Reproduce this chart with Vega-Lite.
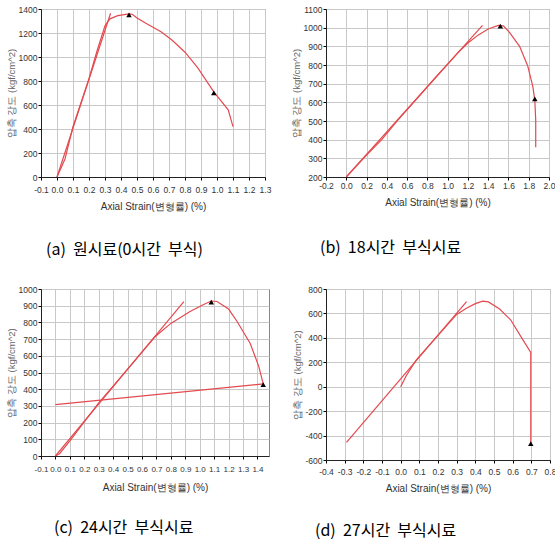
{
  "$schema": "https://vega.github.io/schema/vega-lite/v6.json",
  "padding": {"left": 5, "top": 4, "right": 0, "bottom": 0},
  "background": "white",
  "config": {
    "view": {"stroke": "#888", "strokeWidth": 1},
    "axis": {
      "grid": true, "gridColor": "#c8c8c8", "gridOpacity": 1, "gridWidth": 1,
      "domainColor": "#222", "tickColor": "#000", "tickSize": 3,
      "labelFont": "Liberation Sans", "labelFontSize": 8.5, "labelColor": "#333",
      "titleFont": "Liberation Sans", "titleFontWeight": "normal", "titleColor": "#333"
    },
    "axisX": {"titleFontSize": 10, "labelFlush": false, "labelOverlap": false},
    "axisY": {"titleFontSize": 9.5, "titleColor": "#666", "labelPadding": 1, "titlePadding": 2, "labelOverlap": false},
    "title": {"font": "Noto Sans CJK KR", "fontSize": 16, "fontWeight": "normal", "color": "#000", "orient": "bottom", "anchor": "start", "frame": "group"}
  },
  "datasets": {
    "aL": [
      {"s": "curve", "i": 0, "x": 0.0, "y": 0},
      {"s": "curve", "i": 1, "x": 0.05, "y": 150},
      {"s": "curve", "i": 2, "x": 0.1, "y": 420},
      {"s": "curve", "i": 3, "x": 0.15, "y": 620},
      {"s": "curve", "i": 4, "x": 0.2, "y": 820},
      {"s": "curve", "i": 5, "x": 0.25, "y": 1050},
      {"s": "curve", "i": 6, "x": 0.3, "y": 1260},
      {"s": "curve", "i": 7, "x": 0.33, "y": 1318},
      {"s": "curve", "i": 8, "x": 0.38, "y": 1345},
      {"s": "curve", "i": 9, "x": 0.45, "y": 1360},
      {"s": "curve", "i": 10, "x": 0.47, "y": 1356},
      {"s": "curve", "i": 11, "x": 0.5, "y": 1325},
      {"s": "curve", "i": 12, "x": 0.55, "y": 1285},
      {"s": "curve", "i": 13, "x": 0.65, "y": 1210},
      {"s": "curve", "i": 14, "x": 0.72, "y": 1140},
      {"s": "curve", "i": 15, "x": 0.8, "y": 1040},
      {"s": "curve", "i": 16, "x": 0.88, "y": 910},
      {"s": "curve", "i": 17, "x": 0.98, "y": 710},
      {"s": "curve", "i": 18, "x": 1.07, "y": 560},
      {"s": "curve", "i": 19, "x": 1.1, "y": 420},
      {"s": "line", "i": 0, "x": 0.0, "y": 0},
      {"s": "line", "i": 1, "x": 0.335, "y": 1365}
    ],
    "aM": [{"x": 0.45, "y": 1352}, {"x": 0.98, "y": 702}],
    "bL": [
      {"s": "curve", "i": 0, "x": 0.0, "y": 200},
      {"s": "curve", "i": 1, "x": 0.2, "y": 318},
      {"s": "curve", "i": 2, "x": 0.35, "y": 400},
      {"s": "curve", "i": 3, "x": 0.5, "y": 500},
      {"s": "curve", "i": 4, "x": 0.7, "y": 622},
      {"s": "curve", "i": 5, "x": 0.9, "y": 745},
      {"s": "curve", "i": 6, "x": 1.0, "y": 805},
      {"s": "curve", "i": 7, "x": 1.1, "y": 865},
      {"s": "curve", "i": 8, "x": 1.2, "y": 918},
      {"s": "curve", "i": 9, "x": 1.3, "y": 960},
      {"s": "curve", "i": 10, "x": 1.4, "y": 993},
      {"s": "curve", "i": 11, "x": 1.5, "y": 1012},
      {"s": "curve", "i": 12, "x": 1.55, "y": 1010},
      {"s": "curve", "i": 13, "x": 1.61, "y": 975},
      {"s": "curve", "i": 14, "x": 1.71, "y": 900},
      {"s": "curve", "i": 15, "x": 1.79, "y": 795},
      {"s": "curve", "i": 16, "x": 1.84, "y": 685},
      {"s": "curve", "i": 17, "x": 1.86, "y": 612},
      {"s": "curve", "i": 18, "x": 1.869, "y": 505},
      {"s": "curve", "i": 19, "x": 1.869, "y": 360},
      {"s": "line", "i": 0, "x": 0.0, "y": 200},
      {"s": "line", "i": 1, "x": 1.344, "y": 1012}
    ],
    "bM": [{"x": 1.52, "y": 1008}, {"x": 1.86, "y": 618}],
    "cL": [
      {"s": "curve", "i": 0, "x": 0.0, "y": 0},
      {"s": "curve", "i": 1, "x": 0.03, "y": 15},
      {"s": "curve", "i": 2, "x": 0.1, "y": 90},
      {"s": "curve", "i": 3, "x": 0.2, "y": 205},
      {"s": "curve", "i": 4, "x": 0.3, "y": 318},
      {"s": "curve", "i": 5, "x": 0.4, "y": 418},
      {"s": "curve", "i": 6, "x": 0.5, "y": 520},
      {"s": "curve", "i": 7, "x": 0.6, "y": 622},
      {"s": "curve", "i": 8, "x": 0.69, "y": 714},
      {"s": "curve", "i": 9, "x": 0.8, "y": 794},
      {"s": "curve", "i": 10, "x": 0.93, "y": 864},
      {"s": "curve", "i": 11, "x": 1.02, "y": 904},
      {"s": "curve", "i": 12, "x": 1.08, "y": 928},
      {"s": "curve", "i": 13, "x": 1.12, "y": 925},
      {"s": "curve", "i": 14, "x": 1.2, "y": 880},
      {"s": "curve", "i": 15, "x": 1.26, "y": 804},
      {"s": "curve", "i": 16, "x": 1.35, "y": 674},
      {"s": "curve", "i": 17, "x": 1.41, "y": 534},
      {"s": "curve", "i": 18, "x": 1.44, "y": 432},
      {"s": "curve", "i": 19, "x": 0.0, "y": 308},
      {"s": "line", "i": 0, "x": 0.0, "y": 0},
      {"s": "line", "i": 1, "x": 0.89, "y": 925}
    ],
    "cM": [{"x": 1.08, "y": 922}, {"x": 1.44, "y": 428}],
    "dL": [
      {"s": "curve", "i": 0, "x": 0.0, "y": 0},
      {"s": "curve", "i": 1, "x": 0.03, "y": 90},
      {"s": "curve", "i": 2, "x": 0.08, "y": 212},
      {"s": "curve", "i": 3, "x": 0.1, "y": 248},
      {"s": "curve", "i": 4, "x": 0.2, "y": 420},
      {"s": "curve", "i": 5, "x": 0.3, "y": 592},
      {"s": "curve", "i": 6, "x": 0.35, "y": 640},
      {"s": "curve", "i": 7, "x": 0.4, "y": 680},
      {"s": "curve", "i": 8, "x": 0.44, "y": 700},
      {"s": "curve", "i": 9, "x": 0.47, "y": 694},
      {"s": "curve", "i": 10, "x": 0.53, "y": 636},
      {"s": "curve", "i": 11, "x": 0.59, "y": 546},
      {"s": "curve", "i": 12, "x": 0.65, "y": 396},
      {"s": "curve", "i": 13, "x": 0.697, "y": 281},
      {"s": "curve", "i": 14, "x": 0.697, "y": -460},
      {"s": "line", "i": 0, "x": -0.29, "y": -456},
      {"s": "line", "i": 1, "x": 0.353, "y": 696}
    ],
    "dM": [{"x": 0.697, "y": -465}]
  },
  "columns": 2,
  "spacing": {"row": 26, "column": 18},
  "concat": [
    {
      "width": 224, "height": 168,
      "title": {"text": "(a)\u00a0 원시료(0시간\u00a0 부식)", "dx": 5, "offset": 30},
      "encoding": {
        "x": {"field": "x", "type": "quantitative", "scale": {"domain": [-0.1, 1.3], "nice": false, "zero": false},
              "axis": {"values": [-0.1, 0, 0.1, 0.2, 0.3, 0.4, 0.5, 0.6, 0.7, 0.8, 0.9, 1.0, 1.1, 1.2, 1.3], "labelExpr": "(datum.value < 0 ? '-' : '') + format(abs(datum.value), '.1f')", "labelOverlap": false, "title": "Axial Strain(변형률) (%)", "labelPadding": 5, "titlePadding": 8}},
        "y": {"field": "y", "type": "quantitative", "scale": {"domain": [0, 1400], "nice": false, "zero": false},
              "axis": {"values": [0, 200, 400, 600, 800, 1000, 1200, 1400], "format": "d", "labelOverlap": false, "title": "압축 강도 (kgf/cm^2)"}}
      },
      "layer": [
        {
          "data": {"name": "aL"},
          "mark": {"type": "line", "color": "#e34a4f", "strokeWidth": 1.2, "clip": true},
          "encoding": {"detail": {"field": "s"}, "order": {"field": "i"}}
        },
        {
          "data": {"name": "aM"},
          "mark": {"type": "point", "shape": "triangle-up", "filled": true, "color": "#000", "opacity": 1, "size": 30},
          "encoding": {}
        }
      ]
    },
    {
      "width": 223, "height": 168,
      "title": {"text": "(b)\u00a0 18시간\u00a0 부식시료", "dx": -6, "offset": 32},
      "encoding": {
        "x": {"field": "x", "type": "quantitative", "scale": {"domain": [-0.2, 2.0], "nice": false, "zero": false},
              "axis": {"values": [-0.2, 0, 0.2, 0.4, 0.6, 0.8, 1.0, 1.2, 1.4, 1.6, 1.8, 2.0], "labelExpr": "(datum.value < 0 ? '-' : '') + format(abs(datum.value), '.1f')", "labelOverlap": false, "title": "Axial Strain(변형률) (%)", "labelPadding": 1, "titlePadding": 8}},
        "y": {"field": "y", "type": "quantitative", "scale": {"domain": [200, 1100], "nice": false, "zero": false},
              "axis": {"values": [200, 300, 400, 500, 600, 700, 800, 900, 1000, 1100], "format": "d", "labelOverlap": false, "title": "압축 강도 (kgf/cm^2)"}}
      },
      "layer": [
        {
          "data": {"name": "bL"},
          "mark": {"type": "line", "color": "#e34a4f", "strokeWidth": 1.2, "clip": true},
          "encoding": {"detail": {"field": "s"}, "order": {"field": "i"}}
        },
        {
          "data": {"name": "bM"},
          "mark": {"type": "point", "shape": "triangle-up", "filled": true, "color": "#000", "opacity": 1, "size": 30},
          "encoding": {}
        }
      ]
    },
    {
      "width": 228, "height": 167,
      "title": {"text": "(c)\u00a0 24시간\u00a0 부식시료", "dx": 13, "offset": 28},
      "encoding": {
        "x": {"field": "x", "type": "quantitative", "scale": {"domain": [-0.1, 1.48], "nice": false, "zero": false},
              "axis": {"values": [-0.1, 0, 0.1, 0.2, 0.3, 0.4, 0.5, 0.6, 0.7, 0.8, 0.9, 1.0, 1.1, 1.2, 1.3, 1.4], "labelExpr": "(datum.value < 0 ? '-' : '') + format(abs(datum.value), '.1f')", "labelFontSize": 8, "labelOverlap": false, "title": "Axial Strain(변형률) (%)", "labelPadding": 6, "titlePadding": 9}},
        "y": {"field": "y", "type": "quantitative", "scale": {"domain": [0, 1000], "nice": false, "zero": false},
              "axis": {"values": [0, 100, 200, 300, 400, 500, 600, 700, 800, 900, 1000], "format": "d", "labelOverlap": false, "title": "압축 강도 (kgf/cm^2)"}}
      },
      "layer": [
        {
          "data": {"name": "cL"},
          "mark": {"type": "line", "color": "#e34a4f", "strokeWidth": 1.2, "clip": true},
          "encoding": {"detail": {"field": "s"}, "order": {"field": "i"}}
        },
        {
          "data": {"name": "cM"},
          "mark": {"type": "point", "shape": "triangle-up", "filled": true, "color": "#000", "opacity": 1, "size": 30},
          "encoding": {}
        }
      ]
    },
    {
      "width": 224, "height": 171,
      "title": {"text": "(d)\u00a0 27시간\u00a0 부식시료", "dx": -11, "offset": 29},
      "encoding": {
        "x": {"field": "x", "type": "quantitative", "scale": {"domain": [-0.4, 0.8], "nice": false, "zero": false},
              "axis": {"values": [-0.4, -0.3, -0.2, -0.1, 0, 0.1, 0.2, 0.3, 0.4, 0.5, 0.6, 0.7, 0.8], "labelExpr": "(datum.value < 0 ? '-' : '') + format(abs(datum.value), '.1f')", "labelOverlap": false, "title": "Axial Strain(변형률) (%)", "labelPadding": 4, "titlePadding": 8}},
        "y": {"field": "y", "type": "quantitative", "scale": {"domain": [-600, 800], "nice": false, "zero": false},
              "axis": {"values": [-600, -400, -200, 0, 200, 400, 600, 800], "labelExpr": "(datum.value < 0 ? '-' : '') + format(abs(datum.value), 'd')", "labelOverlap": false, "title": "압축 강도 (kgf/cm^2)"}}
      },
      "layer": [
        {
          "data": {"name": "dL"},
          "mark": {"type": "line", "color": "#e34a4f", "strokeWidth": 1.2, "clip": true},
          "encoding": {"detail": {"field": "s"}, "order": {"field": "i"}}
        },
        {
          "data": {"name": "dM"},
          "mark": {"type": "point", "shape": "triangle-up", "filled": true, "color": "#000", "opacity": 1, "size": 30},
          "encoding": {}
        }
      ]
    }
  ]
}
